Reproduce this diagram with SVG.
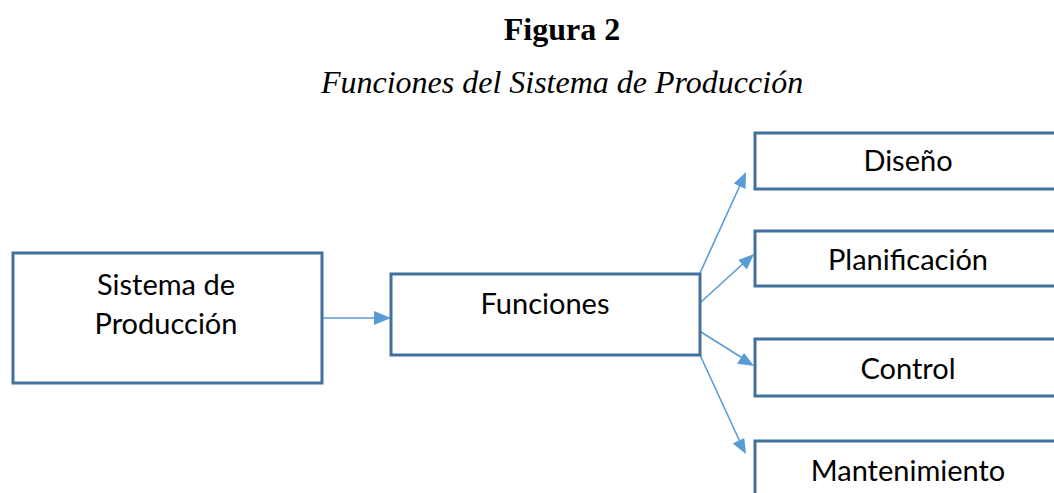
<svg xmlns="http://www.w3.org/2000/svg" width="1054" height="493" viewBox="0 0 1054 493">
<defs>
<style>
.box{fill:#ffffff;stroke:#41719c;stroke-width:3}
.lbl{font-family:Lato,"Open Sans",sans-serif;font-size:29px;fill:#000;text-anchor:middle}
.conn{stroke:#5b9bd5;stroke-width:1.6;fill:none}
.head{fill:#5b9bd5}
</style>
</defs>
<rect width="1054" height="493" fill="#ffffff"/>
<text x="562" y="40" font-family="Liberation Serif,serif" font-weight="bold" font-size="32" text-anchor="middle">Figura 2</text>
<text x="562" y="93" font-family="Liberation Serif,serif" font-style="italic" font-size="32" text-anchor="middle">Funciones del Sistema de Producción</text>
<g id="connectors">
<line class="conn" x1="323" y1="318" x2="376" y2="318"/>
<path class="head" d="M374,311 L391,318 L374,325 Z"/>
<line class="conn" x1="700" y1="273" x2="742" y2="181"/>
<path class="head" d="M746,172 L745.5,189 L733.8,183.6 Z"/>
<line class="conn" x1="701" y1="302" x2="746" y2="261"/>
<path class="head" d="M754,254 L746.9,269.4 L738.3,259.9 Z"/>
<line class="conn" x1="701" y1="332" x2="744" y2="359"/>
<path class="head" d="M754,366 L737.1,363.8 L744,353 Z"/>
<line class="conn" x1="700" y1="355" x2="741" y2="444"/>
<path class="head" d="M746,454 L732.6,443.4 L744.3,438.1 Z"/>
</g>
<g id="n-sistema">
<rect class="box" x="13" y="253" width="309" height="130"/>
<text class="lbl" x="166" y="295">Sistema de</text>
<text class="lbl" x="166" y="334">Producción</text>
</g>
<g id="n-funciones">
<rect class="box" x="391" y="274" width="309" height="81"/>
<text class="lbl" x="545" y="314">Funciones</text>
</g>
<g id="n-diseno">
<rect class="box" x="755" y="133" width="305" height="56"/>
<text class="lbl" x="908" y="171">Diseño</text>
</g>
<g id="n-planificacion">
<rect class="box" x="755" y="231" width="305" height="55"/>
<text class="lbl" x="908" y="270">Planificación</text>
</g>
<g id="n-control">
<rect class="box" x="755" y="339" width="305" height="57"/>
<text class="lbl" x="908" y="379">Control</text>
</g>
<g id="n-mantenimiento">
<rect class="box" x="755" y="441" width="305" height="70"/>
<text class="lbl" x="908" y="481">Mantenimiento</text>
</g>
</svg>
